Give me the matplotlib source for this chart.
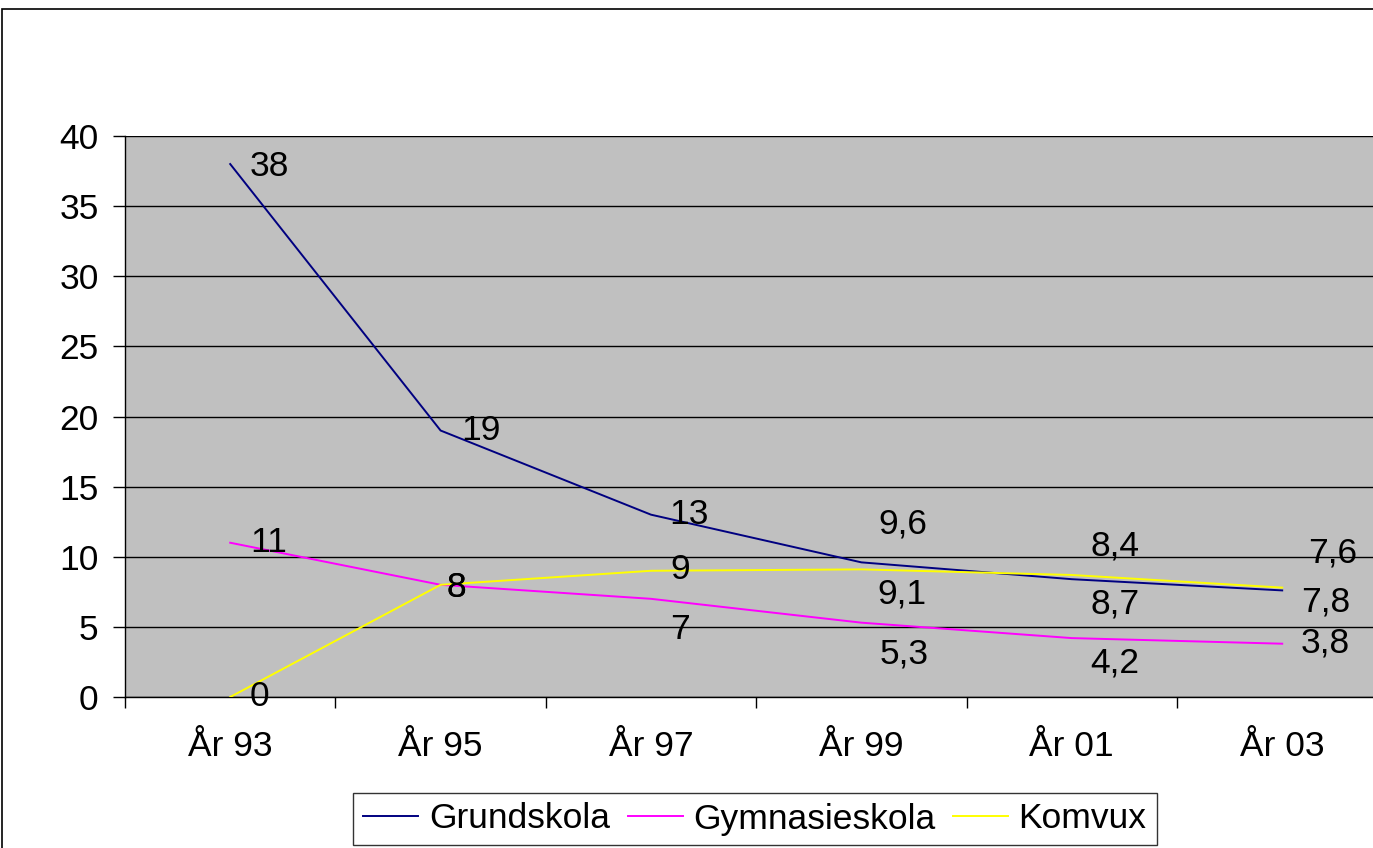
import matplotlib
matplotlib.use("Agg")
import matplotlib.pyplot as plt
from matplotlib.patches import Rectangle

categories = ["År 93", "År 95", "År 97", "År 99", "År 01", "År 03"]
grundskola = [38, 19, 13, 9.6, 8.4, 7.6]
gymnasieskola = [11, 8, 7, 5.3, 4.2, 3.8]
komvux = [0, 8, 9, 9.1, 8.7, 7.8]
series_names = ["Grundskola", "Gymnasieskola", "Komvux"]
colors = ["#000080", "#FF00FF", "#FFFF00"]

# label offsets in pixels (dx, dy) relative to the data point
offsets = [
    [(39, -2), (40, 0), (38, 0), (41, 38), (43, 33), (50, 37)],
    [(38, 0), (16, -3), (29, -31), (43, -31), (43, -25), (43, 1)],
    [(29, 0), (16, -3), (29, 1), (41, -25), (43, -29), (43, -14)],
]

def fmt(v):
    s = ("%g" % v).replace(".", ",")
    return s

FS = 25.5
plt.rcParams['font.family'] = ['Liberation Sans', 'DejaVu Sans']
W, H = 1373, 848
fig = plt.figure(figsize=(W / 100, H / 100), dpi=100)
fig.patch.set_facecolor("white")

# outer chart border (cropped on the right and bottom)
fig.patches.append(Rectangle((2 / W, -0.1), 1.2, (H - 9) / H + 0.1, transform=fig.transFigure,
                             fill=False, edgecolor="black", linewidth=1.2, zorder=0))

left, right, top, bottom = 125, 125 + 6 * 210.4, 136, 697
ax = fig.add_axes([left / W, (H - bottom) / H, (right - left) / W, (bottom - top) / H])
ax.set_facecolor("#C0C0C0")

x = list(range(len(categories)))
data = [grundskola, gymnasieskola, komvux]
for vals, name, c in zip(data, series_names, colors):
    ax.plot(x, vals, color=c, linewidth=1.4, label=name, zorder=3)

for vals, offs in zip(data, offsets):
    for xi, v, (dx, dy) in zip(x, vals, offs):
        ax.annotate(fmt(v), (xi, v), xytext=(dx, dy), textcoords="offset pixels",
                    ha="center", va="center", fontsize=FS, color="black", zorder=4)

ax.set_xlim(-0.5, len(categories) - 0.5)
ax.set_ylim(0, 40)
ax.set_yticks(range(0, 41, 5))
ax.yaxis.grid(True, color="black", linewidth=1.0)
ax.set_axisbelow(True)
ax.set_xticks(x)
ax.set_xticklabels(categories, fontsize=FS)
ax.set_xticks([i - 0.5 for i in range(len(categories) + 1)], minor=True)
ax.tick_params(axis="x", which="major", length=0, pad=24)
ax.tick_params(axis="x", which="minor", length=8, direction="out", width=1)
ax.tick_params(axis="y", length=9, direction="out", width=1, labelsize=FS, pad=10)
for s in ["top", "right"]:
    ax.spines[s].set_visible(False)
for s in ["left", "bottom"]:
    ax.spines[s].set_color("black")
    ax.spines[s].set_linewidth(1.0)

leg = fig.legend(loc="center", bbox_to_anchor=(755 / W, (H - 819) / H), ncol=3,
                 fontsize=FS, frameon=True, fancybox=False, handlelength=1.55,
                 columnspacing=0.5, handletextpad=0.3, borderpad=0.28, borderaxespad=0)
leg.get_frame().set_edgecolor("black")
leg.get_frame().set_linewidth(1.0)

fig.savefig("out.png", dpi=100)
